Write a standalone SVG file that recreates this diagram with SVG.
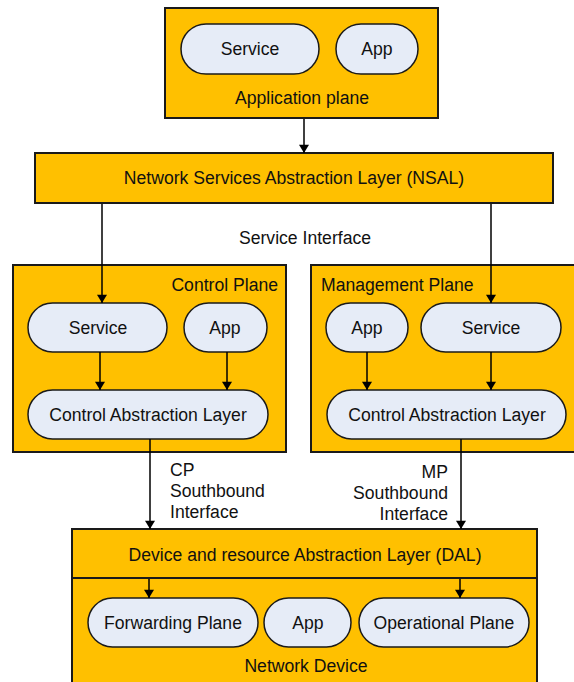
<svg xmlns="http://www.w3.org/2000/svg" width="574" height="682" viewBox="0 0 574 682">
<defs>
<marker id="ah" viewBox="0 0 10 12" refX="10" refY="6" markerWidth="12" markerHeight="10" markerUnits="userSpaceOnUse" orient="auto">
<path d="M0,0 L10,6 L0,12 z" fill="#000"/>
</marker>
<style>
.box{fill:#FFC000;stroke:#1a1a1a;stroke-width:2}
.pill{fill:#E6ECF7;stroke:#1a1a1a;stroke-width:1.5}
text{font-family:"Liberation Sans",Arial,sans-serif;font-size:17.6px;fill:#111}
.c{text-anchor:middle;dominant-baseline:central}
.l{dominant-baseline:central}
.r{text-anchor:end;dominant-baseline:central}
.conn{stroke:#000;stroke-width:1.5;fill:none}
</style>
</defs>
<rect width="574" height="682" fill="#fff"/>
<g id="app-plane">
<rect class="box" x="165" y="8" width="273" height="110"/>
<text class="c" x="302" y="98">Application plane</text>
</g>
<g id="app-service">
<rect class="pill" x="181" y="24" width="138" height="50" rx="25"/>
<text class="c" x="250" y="49">Service</text>
</g>
<g id="app-app">
<rect class="pill" x="336" y="24" width="82" height="50" rx="25"/>
<text class="c" x="377" y="49">App</text>
</g>
<g id="nsal">
<rect class="box" x="35" y="153" width="518" height="50"/>
<text class="c" x="294" y="178">Network Services Abstraction Layer (NSAL)</text>
</g>
<g id="service-interface">
<text class="c" x="305" y="238">Service Interface</text>
</g>
<g id="control-plane">
<rect class="box" x="13" y="265" width="273" height="187"/>
<text class="r" x="278" y="285">Control Plane</text>
</g>
<g id="cp-service">
<rect class="pill" x="28" y="303" width="139" height="49" rx="24.5"/>
<text class="c" x="98" y="328">Service</text>
</g>
<g id="cp-app">
<rect class="pill" x="184" y="303" width="83" height="49" rx="24.5"/>
<text class="c" x="225" y="328">App</text>
</g>
<g id="cp-cal">
<rect class="pill" x="28" y="390" width="240" height="49" rx="24.5"/>
<text class="c" x="148" y="415">Control Abstraction Layer</text>
</g>
<g id="mgmt-plane">
<rect class="box" x="311" y="265" width="275" height="187"/>
<text class="l" x="321" y="285">Management Plane</text>
</g>
<g id="mp-app">
<rect class="pill" x="326" y="303" width="82" height="49" rx="24.5"/>
<text class="c" x="367" y="328">App</text>
</g>
<g id="mp-service">
<rect class="pill" x="421" y="303" width="140" height="49" rx="24.5"/>
<text class="c" x="491" y="328">Service</text>
</g>
<g id="mp-cal">
<rect class="pill" x="327" y="390" width="239" height="49" rx="24.5"/>
<text class="c" x="447" y="415">Control Abstraction Layer</text>
</g>
<g id="cp-sb-label">
<text class="l" x="170" y="470">CP</text>
<text class="l" x="170" y="491">Southbound</text>
<text class="l" x="170" y="512">Interface</text>
</g>
<g id="mp-sb-label">
<text class="r" x="448" y="472">MP</text>
<text class="r" x="448" y="493">Southbound</text>
<text class="r" x="448" y="514">Interface</text>
</g>
<g id="network-device">
<rect class="box" x="72" y="578" width="465" height="120"/>
<text class="c" x="306" y="666">Network Device</text>
</g>
<g id="dal">
<rect class="box" x="72" y="529" width="465" height="49"/>
<text class="c" x="305" y="555">Device and resource Abstraction Layer (DAL)</text>
</g>
<g id="forwarding-plane">
<rect class="pill" x="88" y="598" width="170" height="49" rx="24.5"/>
<text class="c" x="173" y="623">Forwarding Plane</text>
</g>
<g id="nd-app">
<rect class="pill" x="264" y="598" width="87" height="49" rx="24.5"/>
<text class="c" x="308" y="623">App</text>
</g>
<g id="operational-plane">
<rect class="pill" x="359" y="598" width="170" height="49" rx="24.5"/>
<text class="c" x="444" y="623">Operational Plane</text>
</g>
<g id="connectors">
<line class="conn" x1="304" y1="119" x2="304" y2="153" marker-end="url(#ah)"/>
<line class="conn" x1="102" y1="204" x2="102" y2="303" marker-end="url(#ah)"/>
<line class="conn" x1="491" y1="204" x2="491" y2="303" marker-end="url(#ah)"/>
<line class="conn" x1="100" y1="352" x2="100" y2="390" marker-end="url(#ah)"/>
<line class="conn" x1="227" y1="352" x2="227" y2="390" marker-end="url(#ah)"/>
<line class="conn" x1="367" y1="352" x2="367" y2="390" marker-end="url(#ah)"/>
<line class="conn" x1="491" y1="352" x2="491" y2="390" marker-end="url(#ah)"/>
<line class="conn" x1="150" y1="439" x2="150" y2="529" marker-end="url(#ah)"/>
<line class="conn" x1="461" y1="439" x2="461" y2="529" marker-end="url(#ah)"/>
<line class="conn" x1="149" y1="579" x2="149" y2="598" marker-end="url(#ah)"/>
<line class="conn" x1="460" y1="579" x2="460" y2="598" marker-end="url(#ah)"/>
</g>
</svg>
